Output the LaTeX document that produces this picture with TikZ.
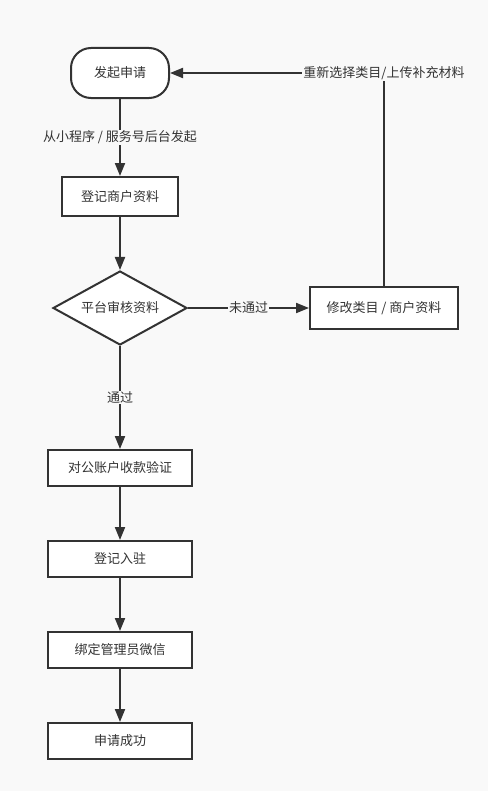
\documentclass[tikz,border=0pt]{standalone}
\usepackage{fontspec}
\setmainfont{Noto Sans CJK SC}
\usetikzlibrary{arrows.meta,shapes.geometric}
\definecolor{bg}{HTML}{F9F9F9}
\definecolor{ln}{HTML}{333333}
\begin{document}
\begin{tikzpicture}[x=1bp,y=-1bp,
  every node/.style={font=\fontsize{13bp}{15bp}\selectfont, text=ln},
  box/.style={draw=ln, line width=2bp, fill=white, minimum height=#1, inner sep=0pt},
  box/.default=36bp,
  conn/.style={draw=ln, line width=2bp, -{Triangle[length=13bp,width=10bp]}},
  plain/.style={draw=ln, line width=2bp},
  lbl/.style={fill=bg, inner sep=1bp}]
\fill[bg] (0,0) rectangle (488,791);
\useasboundingbox (0,0) rectangle (488,791);
\node[box, minimum width=98bp, minimum height=50bp, rounded corners=20bp] (start) at (120,73) {发起申请};
\node[box, minimum width=116bp, minimum height=39bp] (reg) at (120,196.5) {登记商户资料};
\node[draw=ln, line width=2bp, fill=white, diamond, aspect=1.8, minimum width=134bp, minimum height=74bp, inner sep=0pt] (check) at (120,308) {平台审核资料};
\node[box, minimum width=148bp, minimum height=42bp] (mod) at (384,308) {修改类目 / 商户资料};
\node[box, minimum width=144bp] (pay) at (120,468) {对公账户收款验证};
\node[box, minimum width=144bp] (settle) at (120,559) {登记入驻};
\node[box, minimum width=144bp] (bind) at (120,650) {绑定管理员微信};
\node[box, minimum width=144bp] (done) at (120,741) {申请成功};
\coordinate (corner) at (384,73);
\draw[conn] (start) -- node[lbl]{从小程序 / 服务号后台发起} (reg);
\draw[conn] (reg) -- (check);
\draw[conn] (check) -- node[lbl]{未通过} (mod);
\draw[conn] (check) -- node[lbl, pos=0.5]{通过} (pay);
\draw[plain] (mod.north -| corner) -- (corner);
\draw[conn] (corner) -- (start.east);
\node[lbl] (relbl) at (corner) {重新选择类目/上传补充材料};
\draw[conn] (pay) -- (settle);
\draw[conn] (settle) -- (bind);
\draw[conn] (bind) -- (done);
\end{tikzpicture}
\end{document}
